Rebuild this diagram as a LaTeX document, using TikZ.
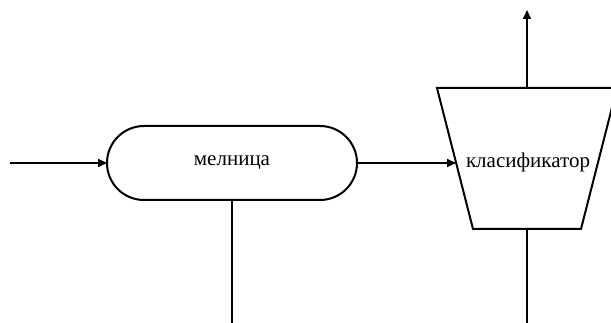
\documentclass[tikz,border=0pt]{standalone}
\usepackage{fontspec}
\newfontfamily\trfont{Liberation Serif}
\usetikzlibrary{shapes.misc,arrows.meta}
\begin{document}
\begin{tikzpicture}[x=1pt,y=-1pt,
  conn/.style={line width=2pt,-{Triangle[length=9pt,width=8pt]}},
  plain/.style={line width=2pt},
  lbl/.style={font=\trfont\fontsize{21}{24}\selectfont,inner sep=0pt,outer sep=0pt}]
\useasboundingbox (0,0) rectangle (611,323);
\node[lbl,draw,line width=2pt,rounded rectangle,minimum width=250pt,minimum height=74pt] (m) at (232,163) {мелница};
\coordinate (ktl) at (437,88);
\coordinate (ktr) at (617,88);
\coordinate (kbr) at (581,229);
\coordinate (kbl) at (473,229);
\draw[line width=2pt,line join=miter] (ktl) -- (ktr) -- (kbr) -- (kbl) -- cycle;
\node[lbl] (k) at (528,162) {класификатор};
\coordinate (kin) at (456,163);
\coordinate (ktop) at (527,88);
\coordinate (kbot) at (527,229);
\coordinate (in) at (10,163);
\coordinate (top) at (527,10);
\coordinate (kb) at (527,323);
\coordinate (mb) at (232,323);
\draw[conn] (in) -- (m.west);
\draw[conn] (m.east) -- (kin);
\draw[conn] (ktop) -- (top);
\draw[plain] (kbot) -- (kb);
\draw[plain] (m.south) -- (mb);
\end{tikzpicture}
\end{document}
